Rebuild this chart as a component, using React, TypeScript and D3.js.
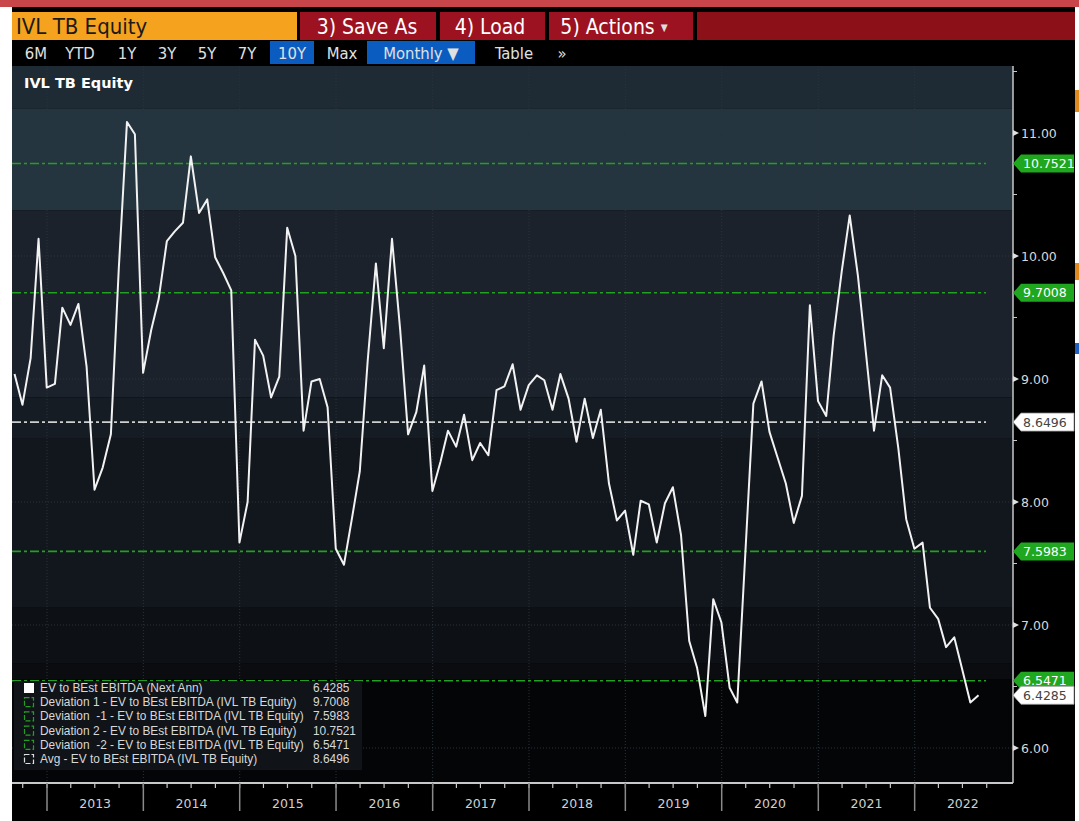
import React from 'react';
import * as d3 from 'd3';

// ---- Data (month-end values, Aug 2012 .. Aug 2022) ----
const v2012 = [9.04, 8.79, 9.17, 10.14, 8.93];
const v2013 = [8.96, 9.58, 9.44, 9.61, 9.10, 8.10, 8.28, 8.55, 9.90, 11.09, 10.99, 9.05];
const v2014 = [9.40, 9.65, 10.12, 10.20, 10.27, 10.81, 10.35, 10.46, 9.99, 9.86, 9.72, 7.67];
const v2015 = [8.00, 9.32, 9.19, 8.85, 9.02, 10.23, 10.00, 8.58, 8.98, 9.00, 8.77, 7.62];
const v2016 = [7.49, 7.85, 8.25, 9.15, 9.94, 9.25, 10.14, 9.40, 8.55, 8.73, 9.11, 8.09];
const v2017 = [8.33, 8.58, 8.45, 8.71, 8.34, 8.48, 8.38, 8.91, 8.94, 9.12, 8.75, 8.95];
const v2018 = [9.03, 8.99, 8.75, 9.04, 8.84, 8.49, 8.84, 8.52, 8.75, 8.15, 7.85, 7.93];
const v2019 = [7.57, 8.01, 7.98, 7.67, 7.99, 8.12, 7.73, 6.87, 6.65, 6.26, 7.21, 7.02];
const v2020 = [6.49, 6.37, 7.60, 8.80, 8.98, 8.57, 8.36, 8.15, 7.83, 8.05, 9.60, 8.82];
const v2021 = [8.70, 9.35, 9.88, 10.33, 9.84, 9.22, 8.58, 9.03, 8.93, 8.44, 7.86, 7.62];
const v2022 = [7.67, 7.14, 7.05, 6.82, 6.90, 6.64, 6.37, 6.4285];
const values = [...v2012, ...v2013, ...v2014, ...v2015, ...v2016, ...v2017, ...v2018, ...v2019, ...v2020, ...v2021, ...v2022];
const startYear = 2012;
const startMonthIndex = 8; // Date(2012, 8, 0) = Aug 31 2012
const dates = values.map((_, i) => new Date(startYear, startMonthIndex + i, 0));

const years = [2013, 2014, 2015, 2016, 2017, 2018, 2019, 2020, 2021, 2022];
const yTicks = [6, 7, 8, 9, 10, 11];
const yMinorTicks = [6.5, 7.5, 8.5, 9.5, 10.5, 11.5];

const legendLabels = [
  'EV to BEst EBITDA (Next Ann)',
  'Deviation 1 - EV to BEst EBITDA (IVL TB Equity)',
  'Deviation  -1 - EV to BEst EBITDA (IVL TB Equity)',
  'Deviation 2 - EV to BEst EBITDA (IVL TB Equity)',
  'Deviation  -2 - EV to BEst EBITDA (IVL TB Equity)',
  'Avg - EV to BEst EBITDA (IVL TB Equity)',
];
const legendValues = [6.4285, 9.7008, 7.5983, 10.7521, 6.5471, 8.6496];
const legendKinds = ['series', 'dev', 'dev', 'dev', 'dev', 'avg'];

const devValues = [10.7521, 9.7008, 7.5983, 6.5471];
const avgValue = 8.6496;
const lastValue = 6.4285;

// background shading bands (value boundaries, top to bottom)
const bandEdges = [11.55, 11.2, 10.37, 8.85, 8.52, 7.14, 6.69, 6.56, 5.7];
const bandColors = ['#1f2b34', '#25353f', '#1b222b', '#161c24', '#12161d', '#0d1015', '#0a0c10', '#040506'];

const periodButtons = ['6M', 'YTD', '1Y', '3Y', '5Y', '7Y', '10Y', 'Max', 'Monthly ▼', 'Table', '»'];
const periodCenters = [36, 80, 127, 167, 207, 247, 292, 342, 421, 514, 562];
const periodActive = [false, false, false, false, false, false, true, false, true, false, false];

const COND = "'Liberation Sans Narrow','DejaVu Sans Condensed',sans-serif";
const SANS = "'DejaVu Sans',sans-serif";

export default function App() {
  const W = 1079, H = 821;
  const L = 12, R = 1013, T = 66, B = 783;
  const x = d3.scaleTime().domain([new Date(2013, 0, 1), new Date(2023, 0, 1)]).range([47, 1011]);
  const y = d3.scaleLinear().domain([6, 11]).range([748, 133]);
  const line = d3.line<number>().x((_, i) => x(dates[i])).y((d) => y(d));

  const quarters = d3.timeMonth.every(3)!.range(new Date(2012, 9, 1), new Date(2023, 0, 1));

  const tag = (v: number, fill: string, color: string, key: string) => {
    const yc = y(v);
    const pts = [[1013, yc], [1021, yc - 9], [1074, yc - 9], [1074, yc + 9], [1021, yc + 9]];
    return (
      <g key={key}>
        <polygon points={pts.map((p) => p.join(',')).join(' ')} fill={fill} stroke={fill === '#ffffff' ? '#999' : 'none'} strokeWidth={0.8} />
        <text x={1023} y={yc + 4.5} fontFamily={SANS} fontSize={12.5} fill={color}>{v.toFixed(4)}</text>
      </g>
    );
  };

  return (
    <svg width={W} height={H} style={{ position: 'absolute', left: 0, top: 0, display: 'block' }}>
      <rect x={0} y={0} width={W} height={H} fill="#ffffff" />
      <rect x={L} y={6} width={1063} height={H - 6} fill="#000000" />
      <rect x={0} y={0} width={W} height={7} fill="#c8454a" />
      {/* right edge decorations */}
      <rect x={1075} y={90} width={4} height={22} fill="#e08a1e" />
      <rect x={1075} y={263} width={4} height={17} fill="#e08a1e" />
      <rect x={1075} y={343} width={4} height={11} fill="#2060c0" />

      {/* Header row 1 */}
      <rect x={12} y={12} width={285} height={28} fill="#f5a21e" />
      <text x={16} y={34} fontFamily={COND} fontSize={22} fill="#1a1a1a">IVL TB Equity</text>
      <rect x={300} y={12} width={136} height={28} fill="#9c1220" />
      <text x={367} y={34} textAnchor="middle" fontFamily={COND} fontSize={21} fill="#ffffff">3) Save As</text>
      <rect x={440} y={12} width={105} height={28} fill="#9c1220" />
      <text x={490} y={34} textAnchor="middle" fontFamily={COND} fontSize={21} fill="#ffffff">4) Load</text>
      <rect x={549} y={12} width={144} height={28} fill="#9c1220" />
      <text x={614} y={34} textAnchor="middle" fontFamily={COND} fontSize={21} fill="#ffffff">5) Actions <tspan fontSize={10} dy={-3} fill="#dddddd">▼</tspan></text>
      <rect x={697} y={12} width={378} height={28} fill="#8c1018" />

      {/* Header row 2 */}
      {periodButtons.map((b, i) => {
        const cx = periodCenters[i];
        const w = b.length > 4 ? 108 : 44;
        return (
          <g key={b}>
            {periodActive[i] && <rect x={cx - w / 2} y={41} width={w} height={23} fill="#0b5cc0" />}
            <text x={cx} y={59} textAnchor="middle" fontFamily={COND} fontSize={16.5} fill="#e0e0e0">{b}</text>
          </g>
        );
      })}

      {/* plot background bands */}
      {bandColors.map((c, i) => {
        const y0 = Math.max(T, y(bandEdges[i]));
        const y1 = Math.min(B, y(bandEdges[i + 1]));
        return <rect key={'band' + i} x={L} y={y0} width={R - L} height={y1 - y0} fill={c} />;
      })}

      {/* faint grid */}
      {years.map((yr) => (
        <line key={'vg' + yr} x1={x(new Date(yr, 0, 1))} x2={x(new Date(yr, 0, 1))} y1={T} y2={B} stroke="#2b323b" strokeWidth={1} strokeDasharray="1,2" />
      ))}
      {yTicks.map((t) => (
        <line key={'hg' + t} x1={L} x2={R} y1={y(t)} y2={y(t)} stroke="#2b323b" strokeWidth={1} strokeDasharray="1,2" />
      ))}

      <text x={24} y={88} fontFamily={SANS} fontWeight="bold" fontSize={14.5} fill="#ffffff">IVL TB Equity</text>

      {/* deviation & avg lines */}
      {devValues.map((v) => (
        <line key={'dev' + v} x1={L} x2={986} y1={y(v)} y2={y(v)} stroke="#22a022" strokeWidth={1.6} strokeDasharray="9,3,3,3" />
      ))}
      <line x1={L} x2={986} y1={y(avgValue)} y2={y(avgValue)} stroke="#cfcfcf" strokeWidth={1.6} strokeDasharray="9,3,3,3" />

      {/* series */}
      <path d={line(values) || ''} fill="none" stroke="#f2f2f2" strokeWidth={2} strokeLinejoin="round" />

      {/* legend */}
      <rect x={14} y={681} width={348} height={89} fill="#101419" />
      {legendLabels.map((lab, i) => {
        const yc = 688 + i * 14.2;
        const kind = legendKinds[i];
        return (
          <g key={'lg' + i}>
            {kind === 'series' ? (
              <rect x={24} y={yc - 5} width={10} height={10} fill="#ffffff" />
            ) : (
              <rect x={24.5} y={yc - 4.5} width={9} height={9} fill="none" stroke={kind === 'dev' ? '#22a022' : '#e0e0e0'} strokeWidth={1.2} strokeDasharray="5,2" />
            )}
            <text x={40} y={yc + 4} fontFamily="'Liberation Sans',sans-serif" fontSize={11.9} fill="#d8d8d8" style={{ whiteSpace: 'pre' }}>{lab}</text>
            <text x={313} y={yc + 4} fontFamily="'Liberation Sans',sans-serif" fontSize={11.9} fill="#d8d8d8">{legendValues[i].toFixed(4)}</text>
          </g>
        );
      })}

      {/* right axis */}
      <line x1={R} x2={R} y1={T} y2={B} stroke="#c8c8c8" strokeWidth={1.5} />
      {yTicks.map((t) => (
        <g key={'yt' + t}>
          <polygon points={`${R},${y(t) - 3} ${R + 6},${y(t)} ${R},${y(t) + 3}`} fill="#e0e0e0" />
          <text x={1021} y={y(t) + 4.5} fontFamily={SANS} fontSize={12.5} fill="#d8d8d8">{t.toFixed(2)}</text>
        </g>
      ))}
      {yMinorTicks.map((t) => (
        <line key={'ym' + t} x1={R} x2={R + 4} y1={y(t)} y2={y(t)} stroke="#c8c8c8" strokeWidth={1} />
      ))}
      {devValues.filter((v) => v !== 6.5471).map((v) => tag(v, '#1fa81f', '#ffffff', 'tg' + v))}
      {tag(avgValue, '#ffffff', '#444444', 'tgavg')}
      {tag(6.5471, '#1fa81f', '#ffffff', 'tg65')}
      {tag(lastValue, '#ffffff', '#444444', 'tglast')}

      {/* bottom axis */}
      <line x1={L} x2={R} y1={B} y2={B} stroke="#c8c8c8" strokeWidth={2} />
      {quarters.map((q, i) => (
        <line key={'q' + i} x1={x(q)} x2={x(q)} y1={B} y2={B + 5} stroke="#c8c8c8" strokeWidth={1.2} />
      ))}
      {years.map((yr) => {
        const x0 = x(new Date(yr, 0, 1));
        const x1 = x(new Date(yr + 1, 0, 1));
        return (
          <g key={'yx' + yr}>
            <line x1={x0} x2={x0} y1={B} y2={B + 28} stroke="#8a8a8a" strokeWidth={1.5} />
            <text x={(x0 + x1) / 2} y={B + 25} textAnchor="middle" fontFamily={SANS} fontSize={12.5} fill="#d0d0d0">{yr}</text>
          </g>
        );
      })}
    </svg>
  );
}
